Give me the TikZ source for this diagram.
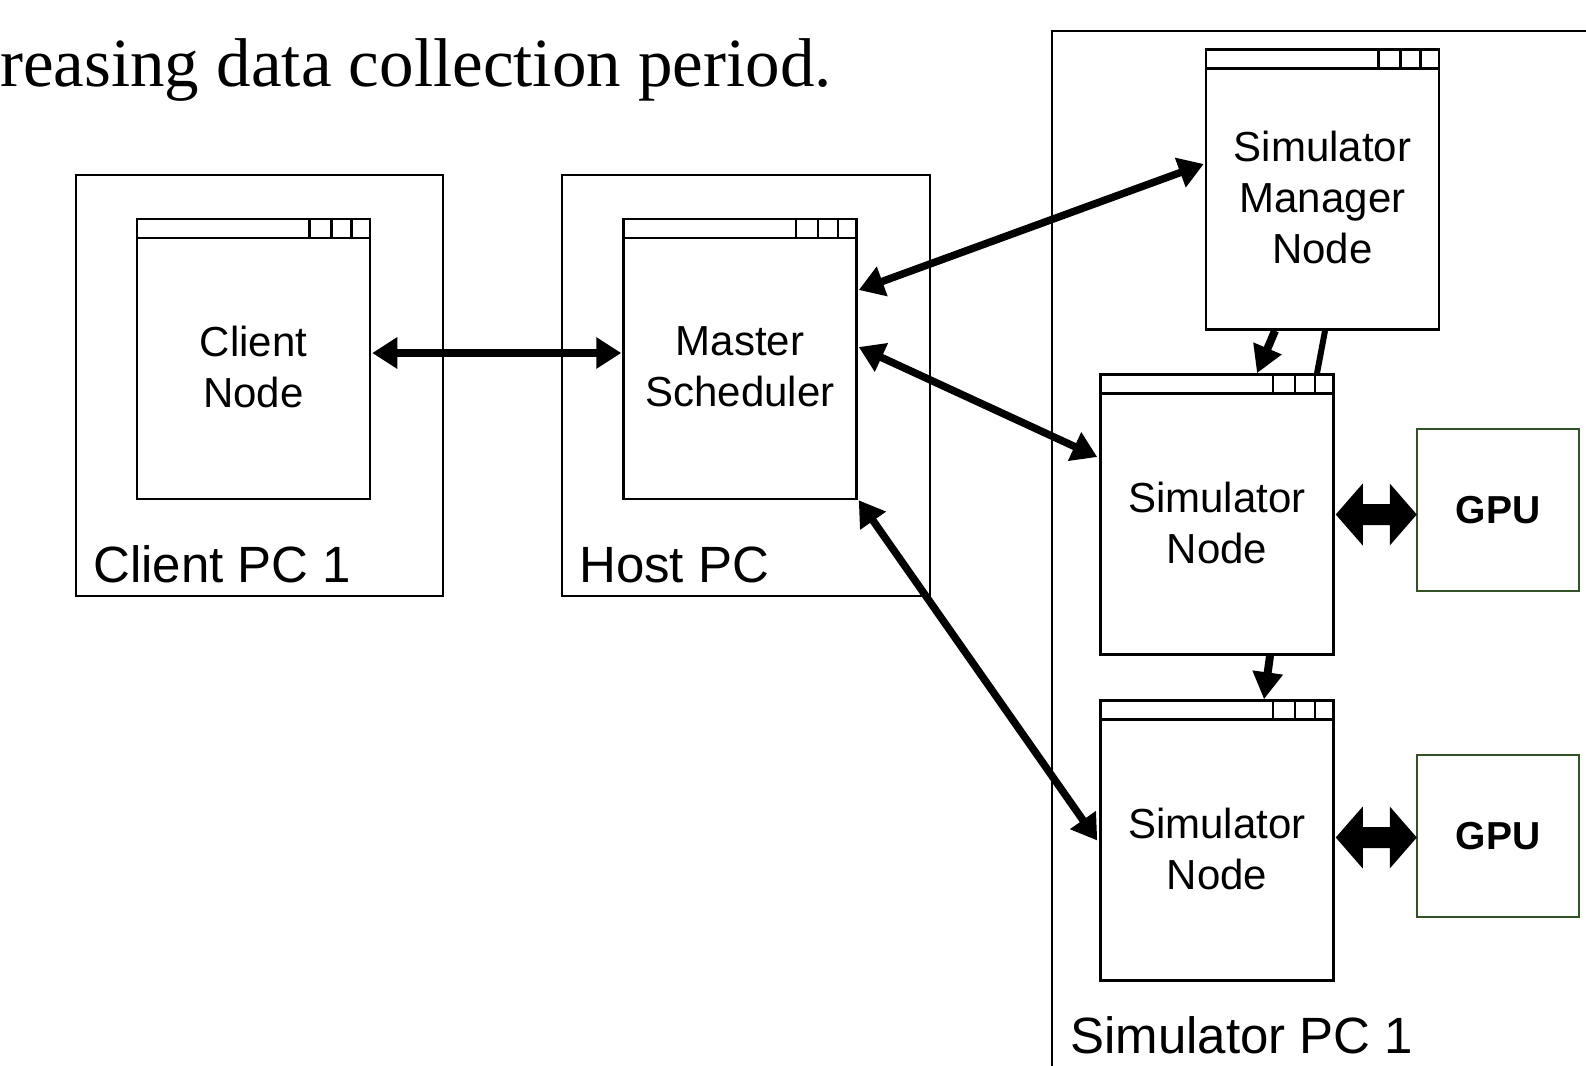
\documentclass[tikz,border=0pt]{standalone}
\usepackage{fontspec}
\setmainfont{Liberation Sans}
\newfontfamily\serifface{Liberation Serif}
\usetikzlibrary{arrows.meta,calc}
\definecolor{gpugreen}{RGB}{50,82,40}
\newcommand\winbar[1]{%
  \draw[line width=2.5pt] ($(#1.north west)+(0,20)$) -- ($(#1.north east)+(0,20)$);
  \foreach \o in {20,40,62}{\draw[line width=2.5pt] ($(#1.north east)+(-\o,0)$) -- ($(#1.north east)+(-\o,20)$);}%
}
\newcommand\blockarrow[1]{%
  \fill (#1) -- ++(27,-31) -- ++(0,20.5) -- ++(27,0) -- ++(0,-20.5) -- ++(27,31)
        -- ++(-27,31) -- ++(0,-20.5) -- ++(-27,0) -- ++(0,20.5) -- cycle;}
\begin{document}
\begin{tikzpicture}[x=1pt,y=-1pt,
  pcbox/.style={draw, line width=2pt, inner sep=0pt},
  win/.style={draw, line width=2.5pt, minimum width=233pt, minimum height=280pt, inner sep=0pt, fill=white},
  wintext/.style={font=\fontsize{42}{51}\selectfont, align=center, inner sep=0pt},
  pclabel/.style={font=\fontsize{51}{60}\selectfont, anchor=base west, inner sep=0pt},
  gpubox/.style={draw=gpugreen, line width=2pt, minimum size=162pt, inner sep=0pt, font=\fontsize{39}{46}\selectfont\bfseries},
  link/.style={line width=7.5pt, {Triangle[length=25pt,width=30pt]}-{Triangle[length=25pt,width=30pt]}},
  down/.style={line width=8pt, -{Triangle[length=27pt,width=29pt]}}
]
\useasboundingbox (0,0) rectangle (1586,1065);
\clip (0,0) rectangle (1586,1065);

% caption fragment
\node[font=\serifface\fontsize{69}{80}\selectfont, anchor=base west, inner sep=0pt] (cap) at (0,86) {reasing data collection period.};

% PC boxes
\node[pcbox, minimum width=367pt, minimum height=421pt] (clientpc) at (259.5,385.5) {};
\node[pcbox, minimum width=368pt, minimum height=421pt] (hostpc) at (746,385.5) {};
\node[pcbox, minimum width=568pt, minimum height=1069pt] (simpc) at (1336,565.5) {};

\node[pclabel] (lclient) at (93,582) {Client PC 1};
\node[pclabel] (lhost) at (579,582) {Host PC};
\node[pclabel] (lsim) at (1070,1053) {Simulator PC 1};

% windows
\node[win] (client) at (253.5,359) {};
\node[win] (master) at (740,359) {};
\node[win] (manager) at (1322.5,189.5) {};
\node[win] (sim1) at (1217,514.5) {};
\node[win] (sim2) at (1217,840.5) {};
\winbar{client}\winbar{master}\winbar{manager}\winbar{sim1}\winbar{sim2}

\node[wintext] (tclient) at ($(client.center)+(0,8)$) {Client\\Node};
\node[wintext] (tmaster) at ($(master.center)+(0,8)$) {Master\\Scheduler};
\node[wintext] (tmanager) at ($(manager.center)+(0,8)$) {Simulator\\Manager\\Node};
\node[wintext] (tsim1) at ($(sim1.center)+(0,8)$) {Simulator\\Node};
\node[wintext] (tsim2) at ($(sim2.center)+(0,8)$) {Simulator\\Node};

% GPUs
\node[gpubox] (gpu1) at (1498,510) {GPU};
\node[gpubox] (gpu2) at (1498,836) {GPU};

% connectors
\draw[link] ($(client.east)+(1,-6)$) -- ($(master.west)+(-1,-6)$);
\draw[link] ($(master.east)+(1,-69)$) -- ($(manager.west)+(-1,-25.5)$);
\draw[link] ($(master.east)+(1,-12)$) -- ($(sim1.west)+(-2,-57.5)$);
\draw[link] ($(master.south east)+(1,0)$) -- ($(sim2.west)+(-2,0)$);

\draw[down] ($(manager.south)+(-47.5,0)$) -- ($(sim1.north)+(40,0)$);
\draw[line width=6pt] ($(manager.south)+(2.5,0)$) -- ($(sim1.north)+(100,0)$);
\draw[down] ($(sim1.south)+(53,0)$) -- ($(sim2.north)+(47,0)$);

\coordinate (b1) at ($(sim1.east)+(1,0)$);
\coordinate (b2) at ($(sim2.east)+(1,-3)$);
\blockarrow{b1}
\blockarrow{b2}
\end{tikzpicture}
\end{document}
